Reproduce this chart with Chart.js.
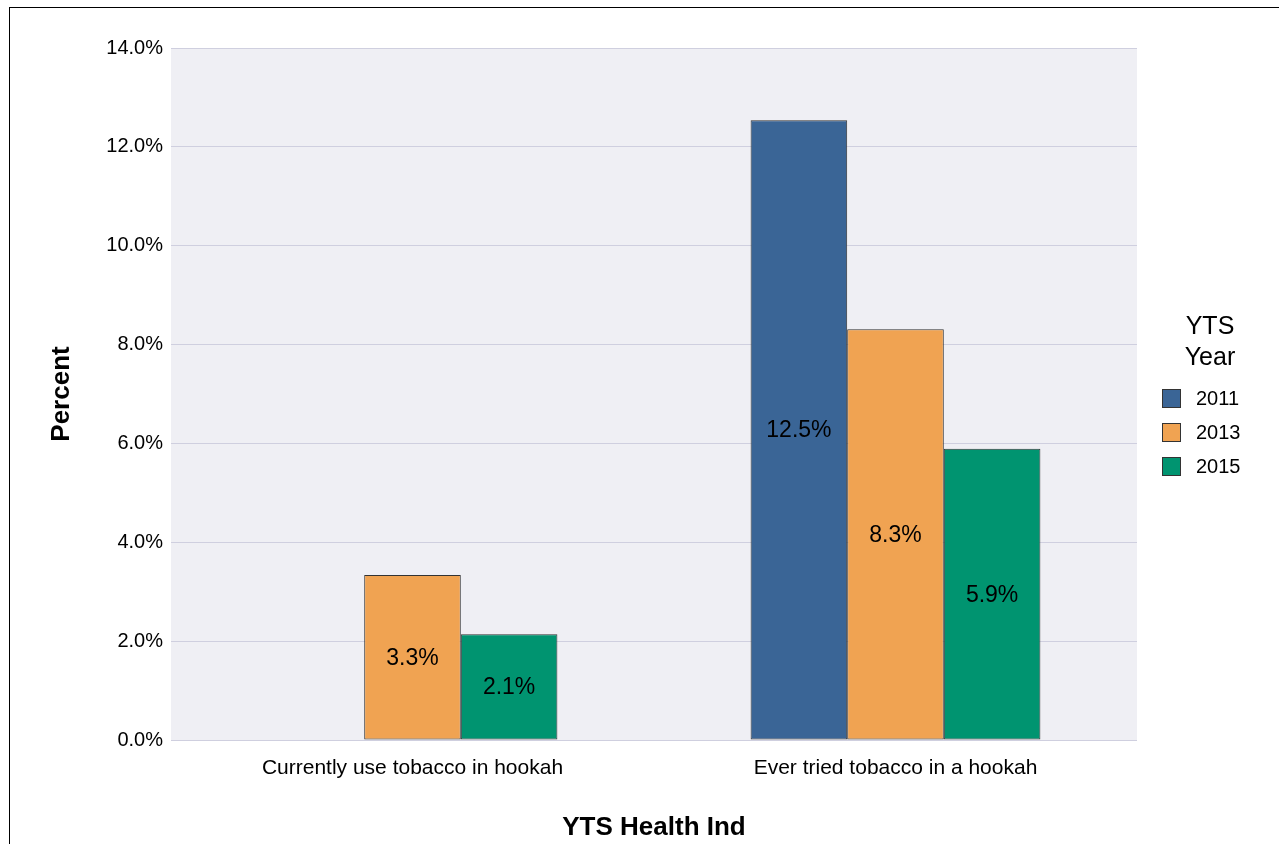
<!DOCTYPE html>
<html>
<head>
<meta charset="utf-8">
<script src="https://cdn.jsdelivr.net/npm/chart.js@4"></script>
<style>
  html, body { margin: 0; padding: 0; background: #fff; }
  #wrap { position: relative; width: 1279px; height: 844px; }
  #frame { position: absolute; left: 9px; top: 7px; right: -5px; bottom: -5px;
           border-left: 1px solid #000; border-top: 1px solid #000; pointer-events: none; }
</style>
</head>
<body>
<div id="wrap">
  <canvas id="chart-hookah" width="1279" height="844"></canvas>
  <div id="frame"></div>
</div>
<script>
// data
const categories = ['Currently use tobacco in hookah', 'Ever tried tobacco in a hookah'];
const years = ['2011', '2013', '2015'];
const values2011 = [null, 12.54];
const values2013 = [3.34, 8.31];
const values2015 = [2.14, 5.89];
const yTicks = [0, 2, 4, 6, 8, 10, 12, 14];

const colors = ['#3a6596', '#f0a352', '#009470'];
const FONT = '"Liberation Sans", Arial, sans-serif';

// plot background
const plotBg = {
  id: 'plotBg',
  beforeDraw(chart) {
    const { ctx, chartArea: a } = chart;
    ctx.save();
    ctx.fillStyle = '#efeff4';
    ctx.fillRect(a.left, a.top, a.right - a.left, a.bottom - a.top);
    ctx.restore();
  }
};

// value labels in the middle of each bar
const barLabels = {
  id: 'barLabels',
  afterDatasetsDraw(chart) {
    const ctx = chart.ctx;
    ctx.save();
    ctx.font = '23px ' + FONT;
    ctx.fillStyle = '#000';
    ctx.textAlign = 'center';
    ctx.textBaseline = 'middle';
    chart.data.datasets.forEach((ds, i) => {
      const meta = chart.getDatasetMeta(i);
      meta.data.forEach((bar, j) => {
        const v = ds.data[j];
        if (v === null || v === undefined) return;
        ctx.fillText(v.toFixed(1) + '%', bar.x, (bar.y + bar.base) / 2 + 1);
      });
    });
    ctx.restore();
  }
};

// legend on the right with two-line title
const sideLegend = {
  id: 'sideLegend',
  afterDraw(chart) {
    const ctx = chart.ctx;
    ctx.save();
    ctx.fillStyle = '#000';
    ctx.textAlign = 'center';
    ctx.textBaseline = 'middle';
    ctx.font = '25px ' + FONT;
    ctx.fillText('YTS', 1210, 327);
    ctx.fillText('Year', 1210, 358);
    ctx.textAlign = 'left';
    ctx.font = '20px ' + FONT;
    chart.data.datasets.forEach((ds, i) => {
      const y = 398 + i * 34;
      ctx.fillStyle = ds.backgroundColor;
      ctx.fillRect(1162, y - 9, 19, 19);
      ctx.strokeStyle = '#333';
      ctx.lineWidth = 1;
      ctx.strokeRect(1162.5, y - 8.5, 18, 18);
      ctx.fillStyle = '#000';
      ctx.fillText(ds.label, 1196, y + 1);
    });
    ctx.restore();
  }
};

const datasets = [values2011, values2013, values2015].map((vals, i) => ({
  label: years[i],
  data: vals,
  backgroundColor: colors[i],
  borderColor: '#333333',
  borderWidth: 1,
  borderSkipped: false,
  categoryPercentage: 0.6,
  barPercentage: 1.0
}));

const ctx = document.getElementById('chart-hookah').getContext('2d');
new Chart(ctx, {
  type: 'bar',
  data: { labels: categories, datasets: datasets },
  options: {
    responsive: false,
    animation: false,
    layout: { padding: { left: 0, right: 142, top: 48, bottom: 0 } },
    plugins: {
      legend: { display: false },
      tooltip: { enabled: false }
    },
    scales: {
      x: {
        grid: { display: false, drawTicks: false },
        border: { display: false },
        ticks: { color: '#000', font: { family: FONT, size: 21 }, padding: 16 },
        title: {
          display: true,
          text: 'YTS Health Ind',
          color: '#000',
          font: { family: FONT, size: 26, weight: 'bold' },
          padding: { top: 0, bottom: 1 }
        },
        afterFit(axis) { axis.height = 104; }
      },
      y: {
        min: 0,
        max: 14,
        afterBuildTicks(axis) { axis.ticks = yTicks.map(v => ({ value: v })); },
        grid: { color: '#cfcfdf', lineWidth: 1, drawTicks: false },
        border: { display: false },
        ticks: {
          color: '#000',
          font: { family: FONT, size: 20 },
          padding: 8,
          callback: v => v.toFixed(1) + '%'
        },
        title: {
          display: true,
          text: 'Percent',
          color: '#000',
          font: { family: FONT, size: 26, weight: 'bold' },
          padding: { top: 46, bottom: 0 }
        },
        afterFit(axis) { axis.width = 171; }
      }
    }
  },
  plugins: [plotBg, barLabels, sideLegend]
});
</script>
</body>
</html>
